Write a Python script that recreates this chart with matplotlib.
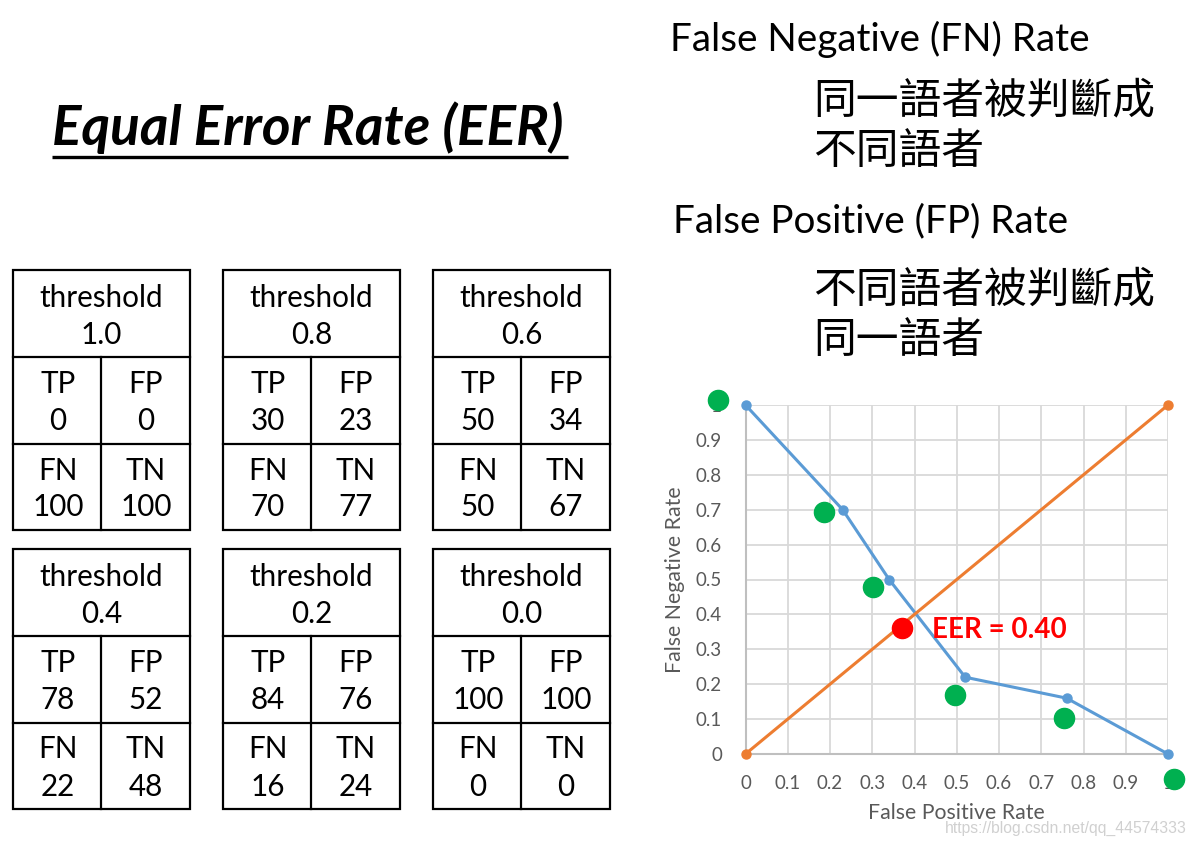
import matplotlib
matplotlib.use("Agg")
import matplotlib.pyplot as plt
from matplotlib.patches import Rectangle

plt.rcParams['font.family'] = ['Lato', 'Noto Sans CJK TC', 'DejaVu Sans']

# ---------------- data ----------------
thresholds = ["1.0", "0.8", "0.6", "0.4", "0.2", "0.0"]
tp = [0, 30, 50, 78, 84, 100]
fp = [0, 23, 34, 52, 76, 100]
fn = [100, 70, 50, 22, 16, 0]
tn = [100, 77, 67, 48, 24, 0]

# curve of (FPR, FNR)
curve_fpr = [0.0, 0.23, 0.34, 0.52, 0.76, 1.0]
curve_fnr = [1.0, 0.70, 0.50, 0.22, 0.16, 0.0]
diag_x = [0.0, 1.0]
diag_y = [0.0, 1.0]
green_x = [-0.064, 0.185, 0.302, 0.497, 0.755, 1.015]
green_y = [1.015, 0.692, 0.479, 0.170, 0.103, -0.073]
eer_x = [0.371]
eer_y = [0.361]
eer_label = "EER = 0.40"
tick_vals = [0, 0.1, 0.2, 0.3, 0.4, 0.5, 0.6, 0.7, 0.8, 0.9, 1]
tick_labels = ["0", "0.1", "0.2", "0.3", "0.4", "0.5", "0.6", "0.7", "0.8", "0.9", "1"]

W, H = 1195, 844
fig = plt.figure(figsize=(W / 100, H / 100), dpi=100)
fig.patch.set_facecolor("white")

# overlay axes in pixel coordinates
bg = fig.add_axes([0, 0, 1, 1])
bg.set_xlim(0, W)
bg.set_ylim(H, 0)
bg.axis("off")

CJK = ['Noto Sans CJK TC', 'DejaVu Sans']

# title
bg.text(52, 128, "Equal Error Rate (EER)", fontsize=39.5, fontweight="bold",
        fontstyle="italic", ha="left", va="center", color="black")
bg.plot([52, 568], [157, 157], color="black", lw=2.4, solid_capstyle="butt")

# right texts
bg.text(670, 39, "False Negative (FN) Rate", fontsize=27.8, ha="left", va="center")
bg.text(813, 101, "同一語者被判斷成", fontsize=30.8, ha="left", va="center", family=CJK)
bg.text(813, 152, "不同語者", fontsize=30.8, ha="left", va="center", family=CJK)
bg.text(673, 221, "False Positive (FP) Rate", fontsize=27.8, ha="left", va="center")
bg.text(813, 290, "不同語者被判斷成", fontsize=30.8, ha="left", va="center", family=CJK)
bg.text(813, 341, "同一語者", fontsize=30.8, ha="left", va="center", family=CJK)

# tables
tx = [13, 223, 433]
ty = [270, 549]
tw, th_h, r_h = 177, 87, 86.5
fs_t = 21.3
for i in range(6):
    x0 = tx[i % 3]
    y0 = ty[i // 3]
    total_h = th_h + 2 * r_h
    bg.add_patch(Rectangle((x0, y0), tw, total_h, fill=False, ec="black", lw=1.6))
    bg.plot([x0, x0 + tw], [y0 + th_h, y0 + th_h], color="black", lw=1.6)
    bg.plot([x0, x0 + tw], [y0 + th_h + r_h, y0 + th_h + r_h], color="black", lw=1.6)
    bg.plot([x0 + tw / 2, x0 + tw / 2], [y0 + th_h, y0 + total_h], color="black", lw=1.6)
    cx = x0 + tw / 2
    bg.text(cx, y0 + 28, "threshold", fontsize=fs_t, ha="center", va="center")
    bg.text(cx, y0 + 65, thresholds[i], fontsize=fs_t, ha="center", va="center")
    lx = x0 + 45
    rx = x0 + 133
    cells = [(lx, 0, "TP", tp[i]), (rx, 0, "FP", fp[i]),
             (lx, 1, "FN", fn[i]), (rx, 1, "TN", tn[i])]
    for cxx, row, lab, val in cells:
        yb = y0 + th_h + row * r_h
        bg.text(cxx, yb + 27, lab, fontsize=fs_t, ha="center", va="center")
        bg.text(cxx, yb + 64, str(val), fontsize=fs_t, ha="center", va="center")

# chart
ax = fig.add_axes([745.5 / W, (H - 754) / H, 422.5 / W, 349 / H])
ax.set_xlim(0, 1)
ax.set_ylim(0, 1)
ax.set_xticks(tick_vals)
ax.set_xticklabels(tick_labels)
ax.set_yticks(tick_vals)
ax.set_yticklabels(tick_labels)
ax.grid(True, color="#d9d9d9", lw=1.3)
ax.set_axisbelow(True)
for s in ["top", "right"]:
    ax.spines[s].set_visible(False)
for s in ["left", "bottom"]:
    ax.spines[s].set_color("#bfbfbf")
    ax.spines[s].set_linewidth(1.5)
ax.tick_params(length=0, labelsize=13.5, labelcolor="#595959")
ax.tick_params(axis="x", pad=15)
ax.tick_params(axis="y", pad=17)
ax.set_xlabel("False Positive Rate", fontsize=15.3, color="#595959", labelpad=8)
ax.set_ylabel("False Negative Rate", fontsize=15.3, color="#595959", labelpad=8)

ax.plot(curve_fpr, curve_fnr, color="#5b9bd5", lw=2.2, marker="o", ms=6.5,
        clip_on=False, zorder=3)
ax.plot(diag_x, diag_y, color="#ed7d31", lw=2.2, marker="o", ms=6.5,
        clip_on=False, zorder=3)
ax.plot(green_x, green_y, ls="none", marker="o", ms=14.5, color="#00b050",
        clip_on=False, zorder=5)
ax.plot(eer_x, eer_y, ls="none", marker="o", ms=14.5, color="#ff0000",
        clip_on=False, zorder=5)
ax.text(eer_x[0] + 0.07, eer_y[0] - 0.005, eer_label, color="#ff0000", fontsize=20,
        fontweight="bold", ha="left", va="center")

# watermark
bg.text(1187, 828, "https://blog.csdn.net/qq_44574333", fontsize=11.3,
        color="#d0d0d0", ha="right", va="center", family=["Liberation Sans", "DejaVu Sans"],
        zorder=10)

fig.savefig("out.png", dpi=100, facecolor="white")
